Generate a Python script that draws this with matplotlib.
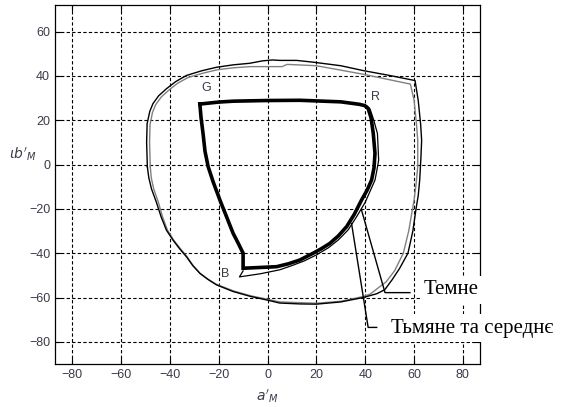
import matplotlib.pyplot as plt
import numpy as np


##########################  DATA  ##########################

# outer boundary, black line
outer_black_a = [-49.2, -49.5, -49.3, -48.2, -46.9, -44.6, -41.4, -37.5,
                 -33.2, -27, -20.9, -14, -7.3, -2, 2, 5, 11.9, 18.7, 30, 39.2,
                 50, 60.4, 61.7, 62.7, 63.1, 62.8, 62.3, 61.7, 60.8, 59.5,
                 57.5, 54, 51, 48, 44.7, 39.2, 30, 20, 13.3, 5, -0.4, -7,
                 -14.1, -20.9, -24.3, -27.7, -30.6, -33.2, -36, -38.7, -41.4,
                 -43.6, -45.5, -47.5, -48.6, -49.2]
outer_black_b = [-1, 10, 18.4, 24, 27.5, 31, 34.2, 37.5, 40.2, 42.3, 43.9,
                 45, 45.7, 46.8, 47.2, 47, 47, 46.2, 44.6, 42.4, 40.2, 37.9,
                 28.9, 18, 10.9, 3, -7, -14, -20, -30, -40, -47, -52, -56.5,
                 -58.3, -60, -62, -63, -62.9, -62.5, -61.1, -59.5, -57.3,
                 -54.3, -51.9, -49.1, -45.6, -41.6, -38, -34.1, -29.6, -23.5,
                 -17, -11, -6, -1]

# outer boundary, gray line
outer_gray_a = [-48, -48.3, -48.1, -47.1, -45.8, -43.5, -40.5, -36.8, -32.5,
                -26.5, -20.5, -13.5, -7, 6, 8, 20, 39, 58.5, 60, 61, 61.5,
                61.5, 60.8, 60, 57.8, 55.6, 52, 48.5, 45.5, 42, 39, 30, 20, 5,
                -0.4, -7, -14, -21, -24.3, -27.7, -30.6, -33, -35.8, -38.5,
                -41, -43, -44.7, -46.6, -47.6, -48]
outer_gray_b = [-1, 10, 18, 23.5, 27, 30.5, 33.5, 36.7, 39.3, 41.2, 42.8,
                43.7, 44.2, 44.2, 45.2, 44.6, 40.8, 36.3, 29, 18, 11, -1, -9,
                -16, -30, -40, -48, -53, -55.5, -58.5, -59.6, -61.7, -62.6,
                -62, -60.7, -59.2, -57, -54, -51.8, -49, -45.4, -41.5, -37.8,
                -34, -29.5, -23.5, -17, -11, -6, -1]

# inner gamut G-R-B, thick line
inner_a = [-27.7, -20, -14, 0, 13.2, 30, 37.5, 39.8, 41.2, 42.4, 43.3, 44,
           43.6, 42.6, 40.8, 38.5, 35.5, 32.4, 29, 25.5, 22, 18.7, 13.2, 8.5,
           3.7, -10, -10, -12, -14.1, -16.8, -19.5, -22.2, -24.3, -25.6,
           -26.4, -27.2, -27.7]
inner_b = [27.3, 28.2, 28.6, 28.9, 29, 28.3, 27.2, 26.6, 25.3, 21, 14, 5,
           -1.5, -7, -11.5, -16, -22.5, -28, -32.2, -35.6, -38, -40, -43.1,
           -44.8, -46.1, -46.8, -40, -35.5, -31, -23.5, -16, -8, -1, 6, 14,
           21, 27.3]

# inner gamut, second thin line
inner2_a = [37.5, 40.6, 42, 43.5, 45, 45.5, 44.7, 44, 42, 40, 36.5, 33, 29,
            25, 20, 15, 10, 5, -3, -11.5, -10]
inner2_b = [27.2, 26.6, 25, 20, 14, 2, -3, -7, -12, -17, -23.5, -29.5, -34,
            -37.5, -40.8, -43.5, -45.6, -47.5, -49.3, -50.7, -48]

corner_labels = ['G', 'R', 'B']
corner_a = [-25, 44.3, -17.5]
corner_b = [34.6, 30.4, -49.4]

# leader lines: (a, b) from the curve to the elbow to the text
lead_dark_a = [38.5, 48.1, 58.3]
lead_dark_b = [-20.6, -57.8, -57.8]
lead_dim_a = [34.4, 41.2, 44.7]
lead_dim_b = [-26.6, -73.5, -73.5]

x_ticks = np.arange(-80, 81, 20)
y_ticks = np.arange(-80, 61, 20)


#################################  PLOTTING  ##################################

plt.rcParams['font.family'] = ['Liberation Sans', 'DejaVu Sans']

fig = plt.figure(figsize=(5.72, 4.07), dpi=100)
ax = fig.add_axes([0.0962, 0.1057, 0.7430, 0.8820])

ax.plot(outer_gray_a, outer_gray_b, color='#808080', lw=1.0, zorder=3)
ax.plot(outer_black_a, outer_black_b, color='black', lw=1.0, zorder=3)
ax.plot(inner2_a, inner2_b, color='black', lw=0.9, zorder=3)
ax.plot(inner_a, inner_b, color='black', lw=2.6, zorder=4,
        solid_joinstyle='miter')

for lab, a, b in zip(corner_labels, corner_a, corner_b):
    ax.text(a, b, lab, fontsize=9, color='#3a3a4a', ha='center', va='center')

ax.plot(lead_dark_a, lead_dark_b, color='black', lw=1.0, clip_on=False,
        zorder=5)
ax.plot(lead_dim_a, lead_dim_b, color='black', lw=1.0, clip_on=False,
        zorder=5)

box = dict(facecolor='white', edgecolor='none', pad=3)
ax.text(64.0, -56.6, 'Темне', fontsize=15, family='Liberation Serif',
        ha='left', va='center', bbox=box, zorder=6)
ax.text(50.5, -73.8, 'Тьмяне та середнє', fontsize=15,
        family='Liberation Serif', ha='left', va='center', bbox=box,
        zorder=6)

ax.set_xlim(-87, 87)
ax.set_ylim(-90, 72)
ax.set_xticks(x_ticks)
ax.set_yticks(y_ticks)
ax.grid(True, color='black', linestyle=(0, (3, 2)), linewidth=0.8)
ax.tick_params(direction='in', length=4, top=True, right=True,
               labelsize=9, labelcolor='#3a3a4a', width=0.8)
for sp in ax.spines.values():
    sp.set_linewidth(0.9)

ax.set_xlabel(r"$a'_M$", fontsize=10, color='#3a3a4a')
ax.xaxis.set_label_coords(0.5, -0.065)
ax.set_ylabel(r"$\iota b'_M$", fontsize=10, color='#3a3a4a', rotation=0)
ax.yaxis.set_label_coords(-0.075, 0.56)

fig.savefig('out.png', dpi=100)
